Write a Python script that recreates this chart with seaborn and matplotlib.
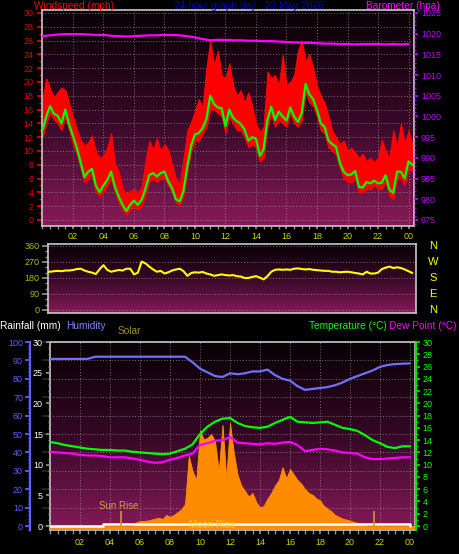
import numpy as np
import pandas as pd
import matplotlib
matplotlib.use("Agg")
import matplotlib.pyplot as plt
from matplotlib.colors import LinearSegmentedColormap
from matplotlib.ticker import MultipleLocator
import seaborn as sns

# ---------------- data ----------------
hours_q = np.arange(0, 24.5, 0.25)   # quarter-hour samples, 0 .. 24.25
hours_h = np.arange(0, 24.5, 0.5)    # half-hour samples, 0 .. 24

# wind speed band (mph): upper / lower envelope and the average
wind_hi = [17.5, 20.5, 19.0, 17.8, 18.5, 19.2, 18.8, 17.0,
           15.0, 13.2, 11.6, 10.8, 11.2, 12.3, 10.0, 9.0,
           9.4, 10.5, 12.6, 8.2, 7.0, 4.6, 3.8, 4.2,
           4.5, 4.0, 4.8, 8.5, 11.5, 10.2, 11.8, 10.0,
           11.0, 10.2, 8.0, 6.0, 5.2, 9.0, 13.0, 14.2,
           15.8, 17.5, 16.4, 22.0, 26.0, 22.5, 24.5, 21.0,
           20.5, 22.7, 19.5, 18.0, 18.8, 17.0, 18.5, 16.5,
           14.0, 12.8, 13.5, 21.5, 20.6, 21.0, 19.5, 23.9,
           19.5, 20.0, 21.0, 24.5, 26.0, 23.0, 24.0, 22.0,
           19.5, 18.0, 17.0, 15.0, 13.0, 12.0, 11.0, 11.5,
           10.0, 10.5, 9.8, 9.0, 9.6, 8.5, 9.0, 8.4,
           9.0, 11.6, 10.0, 9.0, 13.0, 10.5, 14.0, 11.0,
           13.0, 11.0]
wind_lo = [12.0, 14.0, 15.5, 14.5, 14.0, 13.0, 15.0, 13.0,
           11.0, 9.5, 7.5, 5.5, 6.0, 6.5, 4.0, 3.5,
           4.0, 5.0, 6.0, 4.0, 2.5, 1.5, 0.8, 1.5,
           2.0, 1.5, 2.0, 3.5, 5.5, 6.0, 5.5, 6.0,
           6.0, 5.0, 4.0, 2.5, 2.2, 3.5, 7.0, 10.0,
           11.5, 11.5, 12.5, 13.5, 16.0, 16.0, 15.5, 15.0,
           12.5, 15.0, 14.0, 13.0, 13.0, 12.0, 10.5, 11.0,
           10.5, 8.5, 9.0, 13.5, 15.5, 13.5, 14.5, 14.0,
           13.5, 15.5, 14.0, 13.5, 14.5, 18.5, 17.0, 16.5,
           15.0, 13.0, 12.5, 10.5, 10.0, 9.5, 7.5, 6.0,
           5.5, 5.5, 6.0, 4.0, 4.0, 4.5, 4.5, 5.0,
           4.5, 4.5, 5.5, 3.5, 3.0, 6.0, 6.0, 5.0,
           7.5, 7.0]
wind_avg = [13.0, 15.0, 16.5, 15.4, 15.1, 14.0, 16.0, 13.8,
            12.2, 10.5, 8.4, 6.2, 7.0, 7.4, 5.0, 4.0,
            5.0, 5.8, 7.0, 4.8, 3.4, 2.2, 1.3, 2.2,
            2.8, 2.2, 2.9, 4.5, 6.5, 6.8, 6.3, 6.8,
            7.0, 5.6, 4.6, 3.0, 2.7, 4.2, 7.8, 10.8,
            12.4, 12.6, 13.3, 14.6, 18.0, 16.8, 16.3, 16.2,
            13.6, 16.0, 14.8, 14.3, 13.9, 13.1, 11.5, 12.0,
            11.8, 9.3, 10.2, 14.5, 16.4, 14.5, 15.7, 15.0,
            14.4, 16.3, 15.0, 14.2, 15.5, 19.7, 18.2, 17.5,
            16.0, 14.0, 13.5, 11.5, 11.0, 10.6, 8.3, 7.0,
            6.5, 6.6, 7.1, 4.8, 4.7, 5.5, 5.3, 5.7,
            5.3, 5.4, 6.5, 4.4, 3.9, 7.0, 7.0, 6.0,
            8.5, 8.0]

# barometer (hpa), half-hourly
barometer = [1019.4, 1019.6, 1019.8, 1019.9, 1019.9, 1019.9, 1019.8, 1019.7,
             1019.7, 1019.5, 1019.4, 1019.3, 1019.4, 1019.5, 1019.6, 1019.6,
             1019.7, 1019.7, 1019.6, 1019.4, 1019.1, 1018.7, 1018.4, 1018.5,
             1018.5, 1018.4, 1018.4, 1018.3, 1018.3, 1018.2, 1018.2, 1018.1,
             1018.0, 1017.9, 1017.8, 1017.8, 1017.7, 1017.6, 1017.6, 1017.5,
             1017.5, 1017.4, 1017.5, 1017.5, 1017.5, 1017.4, 1017.5, 1017.4,
             1017.5]

# wind direction (degrees), quarter-hourly
wind_dir = [215, 215, 215, 218, 220, 218, 222, 222,
            225, 230, 232, 222, 215, 210, 202, 230,
            252, 225, 215, 220, 225, 222, 232, 232,
            200, 210, 272, 262, 244, 228, 215, 220,
            205, 212, 222, 228, 232, 218, 192, 208,
            212, 210, 214, 205, 200, 192, 196, 200,
            196, 194, 196, 190, 188, 180, 180, 186,
            190, 182, 172, 190, 215, 226, 228, 226,
            228, 226, 232, 234, 230, 228, 230, 226,
            224, 222, 220, 220, 215, 215, 212, 214,
            215, 212, 208, 205, 200, 215, 205, 205,
            210, 230, 238, 244, 236, 240, 236, 228,
            218, 208]

# solar (W/m2), quarter-hourly
solar = [0, 0, 0, 0, 0, 0, 0, 0,
         0, 0, 0, 0, 0, 0, 0, 0,
         0, 0, 0, 0, 0, 0, 0, 20,
         27, 27, 30, 35, 40, 45, 38, 60,
         50, 60, 75, 90, 120, 380, 300, 250,
         520, 470, 480, 500, 460, 300, 550, 260,
         560, 400, 280, 220, 190, 160, 180, 130,
         100, 110, 150, 180, 220, 250, 320, 260,
         310, 280, 250, 230, 200, 180, 170, 150,
         140, 110, 95, 80, 60, 50, 40, 35,
         30, 22, 18, 12, 5, 0, 0, 0,
         0, 0, 0, 0, 0, 0, 0, 0,
         0, 0]

# half-hourly: rainfall (mm), humidity (%), temperature and dew point (C)
rainfall = [0, 0, 0, 0, 0, 0, 0, 0.3,
            0.3, 0.3, 0.3, 0.3, 0.3, 0.3, 0.3, 0.3,
            0.3, 0.3, 0.3, 0.3, 0.3, 0.3, 0.3, 0.3,
            0.3, 0.3, 0.3, 0.3, 0.3, 0.3, 0.3, 0.3,
            0.3, 0.3, 0.3, 0.3, 0.3, 0.3, 0.3, 0.3,
            0.3, 0.3, 0.3, 0.3, 0.3, 0.3, 0.3, 0.3,
            0]
humidity = [90.8, 90.8, 90.8, 90.8, 90.8, 90.8, 92.0, 92.0,
            92.0, 92.0, 92.0, 92.0, 92.0, 92.0, 92.0, 92.0,
            92.0, 92.0, 92.0, 89.0, 85.5, 83.5, 81.5, 81.0,
            83.0, 82.5, 83.0, 84.0, 84.0, 85.0, 82.0, 80.0,
            79.0, 76.0, 74.0, 74.5, 75.0, 75.5, 76.5, 78.0,
            80.0, 81.5, 83.0, 84.5, 86.5, 87.5, 88.0, 88.2,
            88.4]
temperature = [13.7, 13.5, 13.2, 13.0, 12.8, 12.6, 12.5, 12.4,
               12.4, 12.3, 12.3, 12.1, 12.0, 11.9, 11.8, 11.7,
               11.8, 12.2, 12.6, 13.3, 15.0, 16.2, 17.0, 17.5,
               17.6, 16.8, 16.3, 16.1, 16.0, 16.2, 16.8, 17.3,
               17.8, 17.0, 16.9, 16.8, 16.9, 17.0, 16.5, 16.0,
               15.8, 15.5, 14.8, 14.0, 13.5, 12.9, 12.7, 13.0,
               13.0]
dew_point = [12.1, 12.0, 11.9, 11.8, 11.6, 11.5, 11.5, 11.4,
             11.2, 11.2, 11.2, 11.0, 10.8, 10.5, 10.3, 10.4,
             10.8, 11.1, 11.5, 11.8, 13.2, 13.5, 13.9, 14.0,
             14.5, 13.6, 13.5, 13.4, 13.3, 13.5, 13.4, 13.6,
             13.7, 13.2, 12.2, 12.4, 12.6, 12.5, 12.3, 12.0,
             11.9, 11.8, 11.2, 10.9, 10.9, 11.0, 11.1, 11.2,
             11.2]

hour_labels = ["02", "04", "06", "08", "10", "12", "14", "16", "18", "20", "22", "00"]
compass = ["N", "W", "S", "E", "N"]
sun_rise_hour = 4.75
sun_set_hour = 21.6
moon_rise_hour = 10.8

top_df = pd.DataFrame({"hour": hours_q, "avg": wind_avg, "dir": wind_dir, "solar": solar})
half_df = pd.DataFrame({"hour": hours_h, "baro": barometer, "rain": rainfall,
                        "hum": humidity, "temp": temperature, "dew": dew_point})

# ---------------- layout helpers ----------------
W, H = 460, 554


def px_rect(left, top, right, bottom):
    return [left / W, 1 - bottom / H, (right - left) / W, (bottom - top) / H]


def fig_text(x, y, s, color, size=7.3, ha="left"):
    fig.text(x / W, 1 - y / H, s, color=color, fontsize=size, ha=ha, va="center")


bg_cmap = LinearSegmentedColormap.from_list("bg", ["#080004", "#360826", "#861a58"])
GRID = dict(color="#a0a0a0", linestyle=(0, (1, 2)), linewidth=0.7, alpha=0.7)
FRAME = "#c8c8c8"


def paint(ax, xlim, ylim):
    grad = np.linspace(0, 1, 256).reshape(-1, 1)
    ax.imshow(grad, cmap=bg_cmap, aspect="auto", origin="upper",
              extent=[xlim[0], xlim[1], ylim[0], ylim[1]], zorder=0)
    ax.set_xlim(*xlim)
    ax.set_ylim(*ylim)
    for sp in ax.spines.values():
        sp.set_color(FRAME)
        sp.set_linewidth(1.2)


def hide(ax):
    for sp in ax.spines.values():
        sp.set_visible(False)


sns.set_theme(style="dark", rc={"figure.facecolor": "black", "axes.facecolor": "black"})
plt.rcParams["font.family"] = ["Liberation Sans", "DejaVu Sans"]

fig = plt.figure(figsize=(W / 100, H / 100), dpi=100, facecolor="black")

# ---------------- top: wind speed + barometer ----------------
ax_w = fig.add_axes(px_rect(42, 10, 414, 226))
paint(ax_w, (-0.03, 24.36), (-0.87, 30.43))
ax_w.fill_between(hours_q, wind_lo, wind_hi, color="#ff0000", lw=0.8, edgecolor="#ff0000", zorder=2)
sns.lineplot(data=top_df, x="hour", y="avg", ax=ax_w, color="#00ff00", lw=1.6, zorder=3)
ax_w.set_xticks(np.arange(2, 25, 2))
ax_w.set_xticklabels(hour_labels)
ax_w.xaxis.set_minor_locator(MultipleLocator(0.5))
ax_w.set_yticks(np.arange(0, 31, 2))
ax_w.yaxis.set_minor_locator(MultipleLocator(1))
ax_w.tick_params(axis="x", which="both", bottom=True, colors="#909090", labelcolor="#d4d400",
                 length=2.5, pad=2, labelsize=6.5)
ax_w.tick_params(axis="y", which="both", left=True, colors="#e00000", labelcolor="#e00000",
                 length=3.5, pad=2.5, labelsize=6.5)
ax_w.tick_params(axis="y", which="minor", length=2)
ax_w.grid(True, which="major", **GRID)
ax_w.set_xlabel("")
ax_w.set_ylabel("")

ax_p = ax_w.twinx()
sns.lineplot(data=half_df, x="hour", y="baro", ax=ax_p, color="#ff00ff", lw=1.6)
ax_p.set_ylim(973.55, 1025.72)
ax_p.set_yticks(np.arange(975, 1026, 5))
ax_p.yaxis.set_minor_locator(MultipleLocator(1))
ax_p.tick_params(axis="y", which="both", right=True, colors="#c000ff", labelcolor="#c000ff",
                 length=2.6, pad=2.5, labelsize=6.5)
ax_p.tick_params(axis="y", which="minor", length=1.5)
ax_p.grid(False)
ax_p.set_ylabel("")
hide(ax_p)

fig_text(34, 6, "Windspeed (mph)", "#ff0000")
fig_text(249, 6, "24 hour graph day : 22 May 2026", "#0000b8", ha="center")
fig_text(366, 6, "Barometer (hpa)", "#ff00ff")

# ---------------- middle: wind direction ----------------
ax_m = fig.add_axes(px_rect(48, 244, 416, 313))
paint(ax_m, (0.36, 24.49), (-16.9, 371))
sns.lineplot(data=top_df, x="hour", y="dir", ax=ax_m, color="#ffff00", lw=1.5, zorder=3)
ax_m.set_xlim(0.36, 24.49)
ax_m.set_xticks([])
ax_m.set_yticks([0, 90, 180, 270, 360])
ax_m.yaxis.set_minor_locator(MultipleLocator(30))
ax_m.tick_params(axis="y", which="both", left=True, colors="#909090", labelcolor="#b8b800",
                 length=4.5, pad=1.5, labelsize=6.5)
ax_m.tick_params(axis="y", which="minor", length=2.5)
ax_m.grid(True, axis="y", **GRID)
ax_m.grid(False, axis="x")
ax_m.set_xlabel("")
ax_m.set_ylabel("")
for letter, deg in zip(compass, [360, 270, 180, 90, 0]):
    ax_m.text(1.047, deg, letter, color="#ffff00", fontsize=8, ha="center", va="center",
              transform=ax_m.get_yaxis_transform())

# ---------------- bottom: rain, humidity, solar, temperature ----------------
ax_b = fig.add_axes(px_rect(50, 342, 415, 530))
paint(ax_b, (0, 24.33), (-0.65, 30.0))
ax_b.set_xticks(np.arange(2, 25, 2))
ax_b.set_xticklabels(hour_labels)
ax_b.xaxis.set_minor_locator(MultipleLocator(0.5))
ax_b.set_yticks(np.arange(0, 31, 3))
ax_b.tick_params(axis="x", which="both", bottom=True, colors="#909090", labelcolor="#d4d400",
                 length=3, pad=2.5, labelsize=6.5)
ax_b.tick_params(axis="y", left=False, labelleft=False)
ax_b.grid(True, which="major", **GRID)

ax_s = ax_b.twinx()
ax_s.set_ylim(-21.7, 1000)
ax_s.fill_between(hours_q, -15, solar, color="#ff8c00", lw=0.6, edgecolor="#ff8c00")
ax_s.set_yticks([])
ax_s.grid(False)
hide(ax_s)

ax_r = ax_b.twinx()
sns.lineplot(data=half_df, x="hour", y="rain", ax=ax_r, color="#ffffff", lw=1.8,
             drawstyle="steps-post")
ax_r.set_ylim(-0.65, 30.0)
ax_r.yaxis.tick_left()
ax_r.set_yticks(np.arange(0, 31, 5))
ax_r.yaxis.set_minor_locator(MultipleLocator(1))
ax_r.tick_params(axis="y", which="both", colors="#909090", labelcolor="#ffffff",
                 length=3, pad=2, labelsize=6.5)
ax_r.tick_params(axis="y", which="minor", length=1.5)
ax_r.grid(False)
ax_r.set_ylabel("")
hide(ax_r)

ax_h = ax_b.twinx()
sns.lineplot(data=half_df, x="hour", y="hum", ax=ax_h, color="#7070ff", lw=1.6)
ax_h.set_ylim(-2.17, 100)
ax_h.yaxis.tick_left()
ax_h.set_yticks(np.arange(0, 101, 10))
ax_h.yaxis.set_minor_locator(MultipleLocator(2))
hide(ax_h)
ax_h.spines["left"].set_visible(True)
ax_h.spines["left"].set_position(("outward", 14.4))
ax_h.spines["left"].set_color("#6060ff")
ax_h.spines["left"].set_linewidth(1.6)
ax_h.tick_params(axis="y", which="both", colors="#6060ff", labelcolor="#6060ff",
                 length=3.5, pad=1.5, labelsize=6.5)
ax_h.tick_params(axis="y", which="minor", length=1.5)
ax_h.grid(False)
ax_h.set_ylabel("")

ax_t = ax_b.twinx()
sns.lineplot(data=half_df, x="hour", y="temp", ax=ax_t, color="#00ff00", lw=1.6)
sns.lineplot(data=half_df, x="hour", y="dew", ax=ax_t, color="#ff00ff", lw=1.6)
ax_t.set_ylim(-0.65, 30.0)
ax_t.set_xlim(0, 24.33)
ax_t.set_yticks(np.arange(0, 31, 2))
ax_t.yaxis.set_minor_locator(MultipleLocator(1))
hide(ax_t)
ax_t.spines["right"].set_visible(True)
ax_t.spines["right"].set_position(("outward", 1))
ax_t.spines["right"].set_color("#00e000")
ax_t.spines["right"].set_linewidth(1.6)
ax_t.tick_params(axis="y", which="both", colors="#00e000", labelcolor="#00ff00",
                 length=3, pad=1.5, labelsize=6.5)
ax_t.tick_params(axis="y", which="minor", length=1.5)
ax_t.grid(False)
ax_t.set_ylabel("")
ax_t.set_xlabel("")
ax_b.set_xlabel("")

# sun / moon markers
ax_t.vlines([sun_rise_hour, sun_set_hour], 0, 2.5, color="#c0a030", lw=1.2)
ax_t.text(sun_rise_hour - 0.15, 3.3, "Sun Rise", color="#c8a848", fontsize=7, ha="center", va="center")
ax_t.text(moon_rise_hour, 0.1, "Moon Rise", color="#f0d040", fontsize=7, ha="center", va="center")

fig_text(0, 326, "Rainfall (mm)", "#ffffff")
fig_text(66, 326, "Humidity", "#8080ff")
fig_text(118, 331, "Solar", "#a09020")
fig_text(309, 326, "Temperature (\u00b0C)", "#00ff00")
fig_text(389, 326, "Dew Point (\u00b0C)", "#ff00ff")

fig.savefig("out.png", dpi=100, facecolor="black")
